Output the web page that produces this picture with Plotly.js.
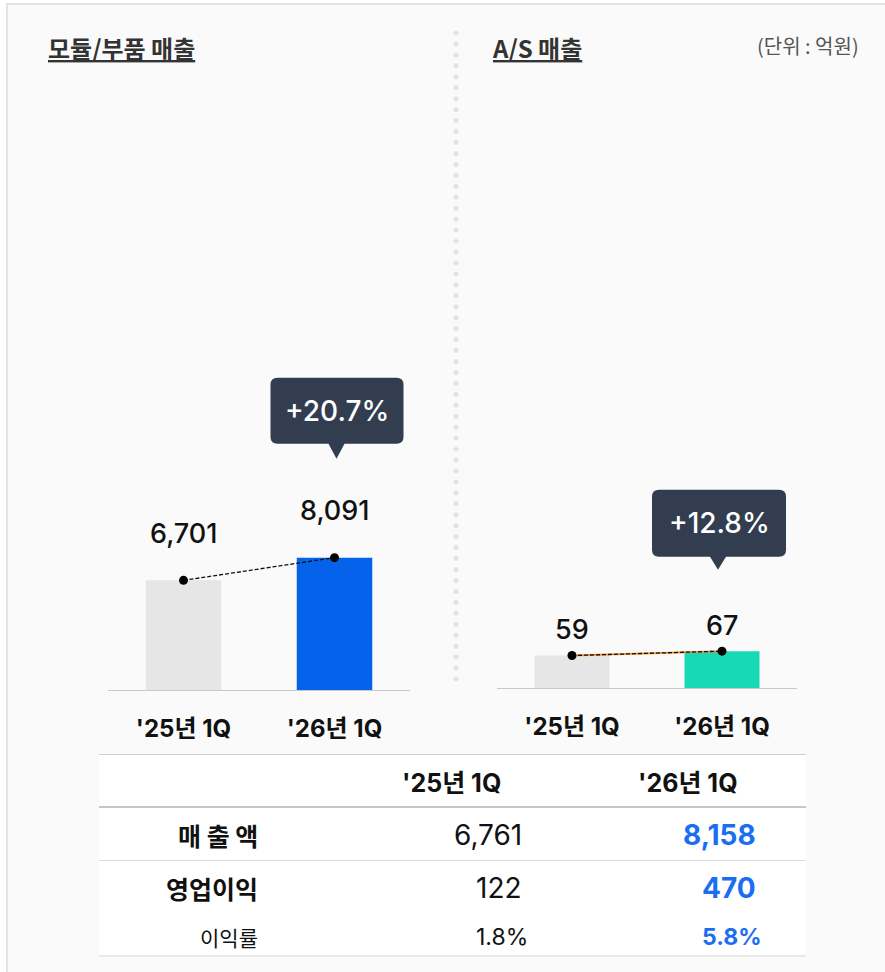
<!DOCTYPE html>
<html>
<head>
<meta charset="utf-8">
<script src="https://cdn.plot.ly/plotly-3.0.1.min.js"></script>
<style>
  html, body { margin: 0; padding: 0; background: #ffffff; }
  #chart { width: 885px; height: 972px; }
</style>
</head>
<body>
<div id="chart"></div>
<script>
// ---------- data ----------
const categories = ["'25년 1Q", "'26년 1Q"];
const moduleSales = [6701, 8091];
const asSales = [59, 67];
const moduleGrowth = "+20.7%";
const asGrowth = "+12.8%";
const chartTitles = ["모듈/부품 매출", "A/S 매출"];
const unitLabel = "(단위 : 억원)";
const tableHeader = ["'25년 1Q", "'26년 1Q"];
const rowLabels = ["매 출 액", "영업이익", "이익률"];
const salesRow = [6761, 8158];
const opProfitRow = [122, 470];
const marginRow = ["1.8%", "5.8%"];

// ---------- helpers ----------
const W = 885, H = 972;
const X = px => px / W;
const Y = py => 1 - py / H;
const FONT = "Inter, 'Noto Sans CJK KR', sans-serif";
const KFONT = "'Noto Sans CJK KR', Inter, sans-serif";
const fmt = v => v.toLocaleString('en-US');

// axis geometry
const base1 = 690, k1 = 0.01636, R1 = 36000;
const base2 = 688, k2 = 0.55, R2 = 1000;

const traces = [
  { type: 'bar', x: categories, y: moduleSales, xaxis: 'x', yaxis: 'y', width: 0.5,
    marker: { color: ['#e6e6e6', '#0563eb'] }, hoverinfo: 'skip', showlegend: false },
  { type: 'scatter', mode: 'lines+markers', x: categories, y: moduleSales, xaxis: 'x', yaxis: 'y',
    line: { color: '#111', width: 1.3, dash: '4px,2px' }, marker: { color: '#000', size: 9 },
    hoverinfo: 'skip', showlegend: false, cliponaxis: false },
  { type: 'bar', x: categories, y: asSales, xaxis: 'x2', yaxis: 'y2', width: 0.5,
    marker: { color: ['#e6e6e6', '#17d9b6'] }, hoverinfo: 'skip', showlegend: false },
  { type: 'scatter', mode: 'lines', x: categories, y: asSales, xaxis: 'x2', yaxis: 'y2',
    line: { color: '#f0913a', width: 2 }, hoverinfo: 'skip', showlegend: false },
  { type: 'scatter', mode: 'lines+markers', x: categories, y: asSales, xaxis: 'x2', yaxis: 'y2',
    line: { color: '#111', width: 1.3, dash: '4px,2px' }, marker: { color: '#000', size: 9 },
    hoverinfo: 'skip', showlegend: false, cliponaxis: false }
];

const xAxisCommon = {
  type: 'category', range: [-0.5, 1.5], showgrid: false, zeroline: false,
  showline: true, linecolor: '#c9c9c9', linewidth: 1, ticks: '',
  tickfont: { family: FONT, size: 24, color: '#111', weight: 700 },
  ticklabelstandoff: 17, fixedrange: true
};

const shapes = [];
const annotations = [];

// frame
shapes.push({ type: 'rect', xref: 'paper', yref: 'paper', x0: X(7), x1: X(900), y0: Y(1000), y1: Y(4),
  line: { color: '#e3e3e3', width: 2 }, fillcolor: '#fafafa', layer: 'below' });

// dotted separator
const nDots = 60, dTop = 33, dBot = 679;
for (let i = 0; i < nDots; i++) {
  const cy = dTop + i * (dBot - dTop) / (nDots - 1);
  shapes.push({ type: 'circle', xref: 'paper', yref: 'paper',
    x0: X(456 - 2.5), x1: X(456 + 2.5), y0: Y(cy + 2.5), y1: Y(cy - 2.5),
    line: { width: 0 }, fillcolor: '#e2e2e2', layer: 'below' });
}

// table background and rules
shapes.push({ type: 'rect', xref: 'paper', yref: 'paper', x0: X(99), x1: X(806), y0: Y(956), y1: Y(754),
  line: { width: 0 }, fillcolor: '#ffffff', layer: 'below' });
[[754.5, 1, '#d0d0d0'], [807, 2, '#c6c6c6'], [860.5, 1, '#dcdcdc'], [956, 1, '#d6d6d6']].forEach(([yy, w, c]) => {
  shapes.push({ type: 'line', xref: 'paper', yref: 'paper', x0: X(99), x1: X(806), y0: Y(yy), y1: Y(yy),
    line: { color: c, width: w }, layer: 'below' });
});

// callouts
function callout(xa, ya, vals, text, box) {
  const idx = vals.length - 1;
  const { L, R, B, T, tx, ty } = box;
  const r = 7, hw = 8;
  const path = `M ${L + r} ${T} L ${R - r} ${T} Q ${R} ${T} ${R} ${T - r} L ${R} ${B + r} Q ${R} ${B} ${R - r} ${B} ` +
    `L ${tx + hw} ${B} L ${tx} ${ty} L ${tx - hw} ${B} L ${L + r} ${B} Q ${L} ${B} ${L} ${B + r} ` +
    `L ${L} ${T - r} Q ${L} ${T} ${L + r} ${T} Z`;
  shapes.push({ type: 'path', xref: xa, yref: ya, xsizemode: 'pixel', ysizemode: 'pixel',
    xanchor: idx, yanchor: vals[idx], path: path, fillcolor: '#333d50', line: { width: 0 } });
  annotations.push({ xref: xa, yref: ya, x: idx, y: vals[idx], text: text, showarrow: false,
    xshift: (L + R) / 2, yshift: (B + T) / 2, yanchor: 'middle', xanchor: 'center',
    font: { family: FONT, size: 28, color: '#ffffff', weight: 500 } });
}
callout('x', 'y', moduleSales, moduleGrowth, { L: -64, R: 69, B: 114, T: 180, tx: 2, ty: 99 });
callout('x2', 'y2', asSales, asGrowth, { L: -70, R: 64, B: 94.5, T: 161.5, tx: -4, ty: 81.5 });

// value labels
moduleSales.forEach((v, i) => annotations.push({ xref: 'x', yref: 'y', x: i, y: v, text: fmt(v),
  showarrow: false, yshift: 47, yanchor: 'middle', font: { family: FONT, size: 27, color: '#111', weight: 500 } }));
asSales.forEach((v, i) => annotations.push({ xref: 'x2', yref: 'y2', x: i, y: v, text: fmt(v),
  showarrow: false, yshift: 26, yanchor: 'middle', font: { family: FONT, size: 27, color: '#111', weight: 500 } }));

// titles
annotations.push({ xref: 'paper', yref: 'paper', x: X(46), y: Y(47), xanchor: 'left', yanchor: 'middle',
  text: '<b>' + chartTitles[0] + '</b>', showarrow: false,
  font: { family: KFONT, size: 24, color: '#333', lineposition: 'under' } });
annotations.push({ xref: 'paper', yref: 'paper', x: X(490), y: Y(47), xanchor: 'left', yanchor: 'middle',
  text: '<b>' + chartTitles[1] + '</b>', showarrow: false,
  font: { family: KFONT, size: 24, color: '#333', lineposition: 'under' } });
annotations.push({ xref: 'paper', yref: 'paper', x: X(861), y: Y(46), xanchor: 'right', yanchor: 'middle',
  text: unitLabel, showarrow: false, font: { family: KFONT, size: 20, color: '#555' } });

// table
const colCenters = [451, 688];
const colRights = [524, 758];
const rowY = [835, 888, 937];
tableHeader.forEach((t, i) => annotations.push({ xref: 'paper', yref: 'paper', x: X(colCenters[i]), y: Y(783),
  xanchor: 'center', yanchor: 'middle', text: '<b>' + t + '</b>', showarrow: false,
  font: { family: FONT, size: 25, color: '#111' } }));
rowLabels.forEach((t, j) => annotations.push({ xref: 'paper', yref: 'paper', x: X(260), y: Y(rowY[j]),
  xanchor: 'right', yanchor: 'middle', text: j < 2 ? '<b>' + t + '</b>' : t, showarrow: false,
  font: { family: KFONT, size: j < 2 ? 25 : 21, color: '#111' } }));
const rows = [salesRow.map(fmt), opProfitRow.map(fmt), marginRow];
rows.forEach((row, j) => row.forEach((v, i) => annotations.push({ xref: 'paper', yref: 'paper',
  x: X(colRights[i] + (j === 2 ? 6 : 0)), y: Y(rowY[j]), xanchor: 'right', yanchor: 'middle',
  text: i === 1 ? '<b>' + v + '</b>' : v, showarrow: false,
  font: { family: FONT, size: j < 2 ? 28 : 23, color: i === 1 ? '#1a6ef2' : '#111' } })));

const layout = {
  width: W, height: H, margin: { l: 0, r: 0, t: 0, b: 0 },
  paper_bgcolor: '#ffffff', plot_bgcolor: 'rgba(0,0,0,0)',
  showlegend: false, bargap: 0.5,
  xaxis: Object.assign({}, xAxisCommon, { domain: [X(108), X(410)], anchor: 'y' }),
  yaxis: { domain: [Y(base1), Y(base1 - R1 * k1)], range: [0, R1], visible: false, fixedrange: true },
  xaxis2: Object.assign({}, xAxisCommon, { domain: [X(497), X(797)], anchor: 'y2' }),
  yaxis2: { domain: [Y(base2), Y(base2 - R2 * k2)], range: [0, R2], visible: false, fixedrange: true },
  shapes: shapes,
  annotations: annotations
};

Plotly.newPlot('chart', traces, layout, { displayModeBar: false, staticPlot: true });
</script>
</body>
</html>
